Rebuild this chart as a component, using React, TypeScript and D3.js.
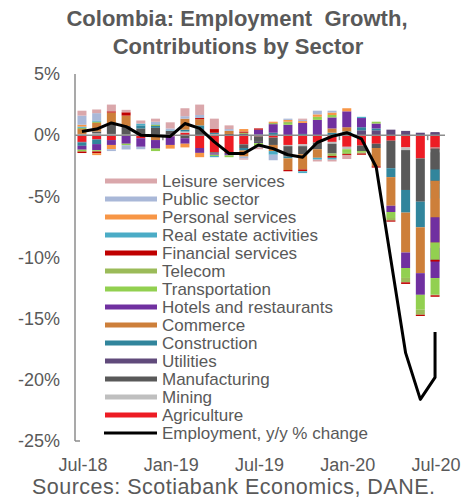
import React from "react";
import * as d3 from "d3";

// Monthly periods; the last month carries two rows (the final bar and line point overlap)
const periods = [
  "Jul-18", "Aug-18", "Sep-18", "Oct-18", "Nov-18", "Dec-18",
  "Jan-19", "Feb-19", "Mar-19", "Apr-19", "May-19", "Jun-19",
  "Jul-19", "Aug-19", "Sep-19", "Oct-19", "Nov-19", "Dec-19",
  "Jan-20", "Feb-20", "Mar-20", "Apr-20", "May-20", "Jun-20",
  "Jul-20", "Jul-20",
];
const tickLabels = ["Jul-18", "Jan-19", "Jul-19", "Jan-20", "Jul-20"];
const yTicks = [5, 0, -5, -10, -15, -20, -25];

// Contributions to employment growth, percentage points
const agriculture = [-0.55, -0.35, -0.4, -0.05, -0.25, 0, -0.1, 0.2, -1.05, -1.4, -1.45, -0.75, -0.1, -0.2, -0.8, -0.75, -0.6, -0.55, -0.95, -0.85, -0.7, -0.45, -1.0, -1.9, -1.2, -1.0];
const mining = [0.1, 0.15, 0.1, 0.05, 0, 0, 0, 0.1, 0, 0.1, 0, 0, 0, 0, -0.1, -0.15, 0, -0.15, -0.2, 0, 0, 0, -0.22, 0, -0.2, -0.1];
const manufacturing = [0, 0.15, 0.8, 0.7, 0.55, 0.6, 0.35, -0.25, 0.5, -0.1, 0.1, -0.3, -0.45, -0.6, -0.85, -0.65, -0.55, -0.8, 0.1, -0.45, -0.35, -2.25, -3.26, -3.54, -2.6, -1.7];
const utilities = [-0.05, 0, 0, 0, 0, 0, 0, 0, 0, 0, -0.1, 0.1, -0.1, 0, 0, 0, 0, 0, 0, 0.4, 0.4, 0.45, 0.35, 0.2, 0.2, 0.25];
const construction = [-0.27, -0.38, 0, 0, 0.25, 0.15, 0, 0.15, 0.3, 0.1, 0, -0.2, 0.05, 0.2, -0.15, 0.1, 0, 0.2, 0.2, 0.25, 0.15, -0.73, -1.85, -2.09, -1.2, -0.93];
const commerce = [0.4, 0.7, 0.95, 0.85, 0, -0.4, 0, 0.9, 0.5, 0, 0.25, -0.5, 0, -0.5, -0.95, -1.25, -0.7, 0.35, 0.35, 0, -1.5, -2.34, -3.26, -3.75, -4.0, -2.98];
const hotels = [-0.32, -0.5, -0.4, -0.65, -0.7, -0.7, -0.7, -0.45, -0.4, -0.1, -0.1, 0, 0.4, 0.7, 0.85, 0.9, 1.25, 0.9, 1.3, 0.75, 0.4, -0.51, -1.27, -1.77, -2.48, -2.07];
const transportation = [-0.15, -0.1, 0, -0.12, 0, -0.2, 0, 0, 0, -0.1, -0.15, 0, -0.15, 0, 0.15, 0, 0.25, 0.2, -0.3, -0.1, 0.15, -0.49, -0.81, -1.22, -1.36, -1.41];
const telecom = [0.1, 0.1, 0, 0, 0, 0.1, 0, 0, 0, 0, 0, 0.1, -0.1, 0.1, 0.1, 0, 0, -0.2, -0.1, -0.1, 0, -0.2, -0.36, -0.41, -0.05, 0];
const financial = [-0.12, -0.15, 0.1, 0.27, 0, 0, 0, 0, 0.1, 0.3, 0, 0.1, 0.1, 0, -0.1, -0.15, 0, -0.15, -0.1, -0.1, -0.1, -0.1, -0.13, -0.1, -0.12, -0.14];
const realEstate = [0.1, 0.1, 0, 0, 0.15, 0.05, 0.05, 0, 0, -0.1, 0, 0, 0, -0.3, 0, -0.15, -0.15, -0.15, 0, 0.1, 0, 0, 0, 0, 0, 0];
const personal = [0.15, -0.15, -0.35, 0, 0, 0, -0.3, -0.3, -0.35, 0, 0, 0.2, 0, 0.1, 0.15, 0.15, 0.2, 0.2, 0.25, 0, 0, 0, 0, 0, 0, 0];
const publicSector = [0.75, 0.6, -0.15, -0.35, -0.2, 0.2, 0.15, 0.2, 0.25, 0, 0.15, -0.15, -0.1, -0.45, 0.1, 0.1, 0.3, 0.15, 0, 0, 0, 0, 0, 0, 0, 0];
const leisure = [0.4, 0.3, 0.55, 0.2, 0.25, 0.25, 0.5, 0.65, 0.85, 0.85, 0.3, -0.1, -0.15, 0, 0, 0.1, -0.15, -0.15, -0.3, 0, 0, 0, 0, 0, 0, 0];

// Employment, y/y % change
const employment = [0.3, 0.5, 1.0, 0.7, 0.0, -0.05, -0.1, 0.95, 0.55, -0.55, -1.5, -1.5, -0.8, -1.1, -1.6, -1.8, -0.6, -0.1, 0.2, -0.3, -2.6, -10.2, -17.8, -21.6, -19.8, -16.1];

// Stacking order (first series sits next to zero)
const sectorNames = [
  "Agriculture", "Mining", "Manufacturing", "Utilities", "Construction", "Commerce",
  "Hotels and restaurants", "Transportation", "Telecom", "Financial services",
  "Real estate activities", "Personal services", "Public sector", "Leisure services",
];
const sectorValues = [
  agriculture, mining, manufacturing, utilities, construction, commerce,
  hotels, transportation, telecom, financial, realEstate, personal, publicSector, leisure,
];
const sectorColors = [
  "#ED1C24", "#BFBFBF", "#595959", "#604A7B", "#31859C", "#CD7F3A",
  "#7030A0", "#92D050", "#9BBB59", "#C00000", "#4BACC6", "#F79646", "#A9B8D8", "#DAA7AB",
];

const W = 475;
const H = 504;
const GRAY = "#595959";
const FONT = "'Liberation Sans', Arial, sans-serif";

export default function App() {
  const months = Array.from(new Set(periods));
  const x = d3.scalePoint<string>().domain(months).range([74.6, 442.4]).padding(0.5);
  const y = d3.scaleLinear().domain([-25, 5]).range([441, 74]);
  const step = x.step();
  const barW = 9;

  const table = periods.map((p, i) => {
    const row: Record<string, number | string> = { period: p };
    sectorNames.forEach((name, s) => {
      row[name] = sectorValues[s][i];
    });
    return row;
  });
  const stacked = d3
    .stack<Record<string, number | string>>()
    .keys(sectorNames)
    .value((d, key) => d[key] as number)
    .offset(d3.stackOffsetDiverging)(table);

  const line = d3
    .line<number>()
    .x((_, i) => x(periods[i]) as number)
    .y((d) => y(d));

  const legendItems = sectorNames
    .map((name, s) => ({ name, color: sectorColors[s] }))
    .reverse();

  return (
    <svg
      width={W}
      height={H}
      style={{ position: "absolute", left: 0, top: 0, background: "#fff" }}
      fontFamily={FONT}
    >
      {/* Title */}
      <text
        x={237}
        y={26}
        textAnchor="middle"
        fontSize={22}
        fontWeight="bold"
        fill={GRAY}
        style={{ whiteSpace: "pre" }}
      >
        {"Colombia: Employment  Growth,"}
      </text>
      <text x={238} y={54} textAnchor="middle" fontSize={22} fontWeight="bold" fill={GRAY}>
        Contributions by Sector
      </text>

      {/* Y axis labels */}
      {yTicks.map((t) => (
        <text key={t} x={60} y={y(t)} dy="0.35em" textAnchor="end" fontSize={18} fill={GRAY}>
          {`${t}%`}
        </text>
      ))}

      {/* Stacked bars, drawn period by period */}
      {periods.map((p, i) => (
        <g key={`bar-${i}`}>
          {stacked.map((series, s) => {
            const [a, b] = series[i];
            if (a === b) return null;
            const top = y(Math.max(a, b));
            const bottom = y(Math.min(a, b));
            return (
              <rect
                key={s}
                x={(x(p) as number) - barW / 2}
                y={top}
                width={barW}
                height={bottom - top}
                fill={sectorColors[s]}
              />
            );
          })}
        </g>
      ))}

      {/* Axes */}
      <line x1={75} x2={75} y1={y(5)} y2={y(-25)} stroke="#8C8C8C" strokeWidth={1.5} />
      <line x1={75} x2={80} y1={y(-25)} y2={y(-25)} stroke="#8C8C8C" strokeWidth={1.5} />
      <line x1={75} x2={445} y1={y(0)} y2={y(0)} stroke="#8C8C8C" strokeWidth={1.5} />
      {tickLabels.slice(1).map((t) => (
        <line
          key={`tick-${t}`}
          x1={(x(t) as number) - step / 2}
          x2={(x(t) as number) - step / 2}
          y1={y(0)}
          y2={y(0) + 5}
          stroke="#8C8C8C"
          strokeWidth={1.5}
        />
      ))}

      {/* Employment line */}
      <path d={line(employment) || ""} fill="none" stroke="#000" strokeWidth={3} strokeLinejoin="round" />

      {/* X axis labels */}
      {tickLabels.map((t) => (
        <text key={t} x={(x(t) as number) + 1} y={471} textAnchor="middle" fontSize={18} fill={GRAY}>
          {t}
        </text>
      ))}

      {/* Legend */}
      {legendItems.map((item, k) => (
        <g key={item.name} transform={`translate(0, ${181 + k * 18})`}>
          <rect x={105} y={-2.5} width={52} height={5} fill={item.color} />
          <text x={162} y={0} dy="0.35em" fontSize={17} fill={GRAY}>
            {item.name}
          </text>
        </g>
      ))}
      <g transform={`translate(0, ${181 + legendItems.length * 18})`}>
        <line x1={104} x2={157} y1={0} y2={0} stroke="#000" strokeWidth={3} />
        <text x={162} y={0} dy="0.35em" fontSize={17} fill={GRAY}>
          Employment, y/y % change
        </text>
      </g>

      {/* Source note */}
      <text x={32} y={494} fontSize={21.5} fill={GRAY} textLength={403} lengthAdjust="spacing">
        Sources: Scotiabank Economics, DANE.
      </text>
    </svg>
  );
}
